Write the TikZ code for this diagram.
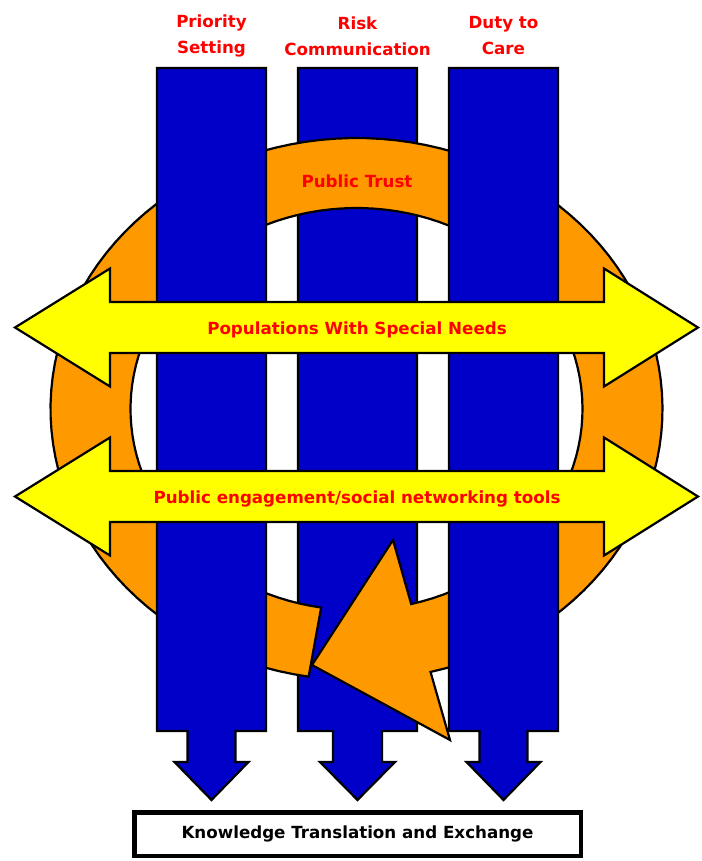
\documentclass[tikz,border=0pt]{standalone}
\usepackage{fontspec}
\setsansfont{DejaVu Sans}
\usepackage{xcolor}
\usepackage{tikz}
\usetikzlibrary{calc,positioning}

\definecolor{pillarblue}{RGB}{0,0,200}
\definecolor{ringorange}{RGB}{255,153,0}
\definecolor{arrowyellow}{RGB}{255,255,0}
\definecolor{labelred}{RGB}{255,0,0}

\tikzset{
  outline/.style={draw=black, line width=2.2pt, line join=miter},
  redlabel/.style={text=labelred, font=\sffamily\bfseries\fontsize{16.7}{26}\selectfont, align=center},
}

\begin{document}
\begin{tikzpicture}[x=1pt, y=-1pt]
    \useasboundingbox (0,0) rectangle (701,861);

    % Middle pillar
    \draw[outline, fill=pillarblue] (298,68) -- (417,68) -- (417,731)
      -- (382,731) -- (382,762) -- (395,762) -- (357.5,800)
      -- (320,762) -- (333,762) -- (333,731) -- (298,731) -- cycle;

    % Ring
    \draw[outline, fill=ringorange]
      plot[domain=99:436, samples=120] ({356.5+306*cos(\x)}, {409+271*sin(\x)})
      -- (450,740) -- (312,665) -- (393,540)
      -- plot[domain=436:99, samples=120] ({356.5+226*cos(\x)}, {409+201*sin(\x)})
      -- cycle;

    % Outer pillars
    \foreach \l/\r/\c in {157/266/211.5, 449/558/503.5} {
        \draw[outline, fill=pillarblue] (\l,68) -- (\r,68) -- (\r,731)
          -- ({\c+24},731) -- ({\c+24},762) -- ({\c+37},762) -- (\c,800)
          -- ({\c-37},762) -- ({\c-24},762) -- ({\c-24},731) -- (\l,731) -- cycle;
    }

    % Double arrows
    \foreach \y in {327.5, 496.5} {
        \draw[outline, fill=arrowyellow] (15,\y) -- (110,{\y-59}) -- (110,{\y-25.5})
          -- (604,{\y-25.5}) -- (604,{\y-59}) -- (698,\y) -- (604,{\y+59})
          -- (604,{\y+25.5}) -- (110,{\y+25.5}) -- (110,{\y+59}) -- cycle;
    }

    % Labels
    \node[redlabel] (prio) at (211.5,36) {Priority\\Setting};
    \node[redlabel] (risk) at (357.5,36) {Risk\\Communication};
    \node[redlabel] (duty) at (503.5,36) {Duty to\\Care};
    \node[redlabel] (trust) at (357,181) {Public Trust};
    \node[redlabel] (needs) at (357,330) {Populations With Special Needs};
    \node[redlabel] (engage) at (357,499) {Public engagement/social networking tools};

    % Bottom box
    \node[draw, line width=4.5pt, fill=white, minimum width=446.5pt, minimum height=43.5pt,
      font=\sffamily\bfseries\fontsize{16.7}{20}\selectfont] (kte) at (357.5,834)
      {Knowledge Translation and Exchange};
\end{tikzpicture}
\end{document}
